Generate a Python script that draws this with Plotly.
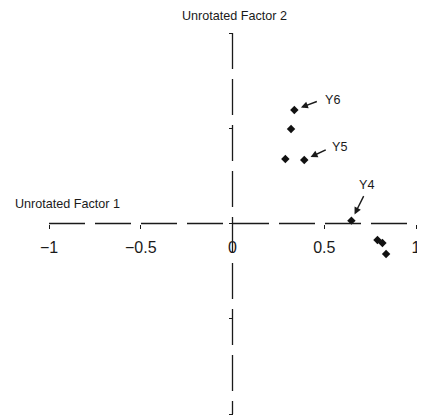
import plotly.graph_objects as go

factor1 = [0.337, 0.319, 0.288, 0.391, 0.648, 0.790, 0.817, 0.837]
factor2 = [0.596, 0.496, 0.339, 0.333, 0.015, -0.087, -0.102, -0.160]
point_labels = ["Y6", "", "", "Y5", "Y4", "", "", ""]
tick_vals = [-1, -0.5, 0, 0.5, 1]
tick_text = ["\u22121", "\u22120.5", "0", "0.5", "1"]
x_title = "Unrotated Factor 1"
y_title = "Unrotated Factor 2"

# arrow offsets (pixels) and text shifts for labelled points
arrow_style = {
    "Y6": dict(ax=24, ay=-9, xshift=38, yshift=10),
    "Y5": dict(ax=23, ay=-11, xshift=35, yshift=13),
    "Y4": dict(ax=13, ay=-26, xshift=15, yshift=36),
}

ink = "#1a1a1a"
font = "Liberation Sans, Arial, sans-serif"

fig = go.Figure()
fig.add_trace(go.Scatter(
    x=factor1, y=factor2, mode="markers",
    marker=dict(symbol="diamond", size=6.5, color="#111111"),
    hoverinfo="skip", showlegend=False, cliponaxis=False,
))

dash = "36px,10px"
fig.add_shape(type="line", x0=-1, y0=0, x1=1, y1=0, xref="x", yref="y",
              line=dict(color=ink, width=1.3, dash=dash))
fig.add_shape(type="line", x0=0, y0=1, x1=0, y1=-1, xref="x", yref="y",
              line=dict(color=ink, width=1.3, dash=dash))

annotations = []
for xv, yv, lab in zip(factor1, factor2, point_labels):
    if not lab:
        continue
    st = arrow_style[lab]
    annotations.append(dict(x=xv, y=yv, xref="x", yref="y", text="",
                            showarrow=True, ax=st["ax"], ay=st["ay"],
                            arrowhead=2, arrowsize=1, arrowwidth=1.4,
                            arrowcolor=ink, standoff=7))
    annotations.append(dict(x=xv, y=yv, xref="x", yref="y", text=lab,
                            showarrow=False, xshift=st["xshift"], yshift=st["yshift"],
                            font=dict(family=font, size=12.6, color=ink)))

annotations.append(dict(x=0.01, y=1, xref="x", yref="paper", text=y_title,
                        showarrow=False, xanchor="center", yanchor="top", yshift=25,
                        borderpad=0,
                        font=dict(family=font, size=12.6, color=ink)))
annotations.append(dict(x=-0.0973, y=0.1, xref="paper", yref="y", text=x_title,
                        showarrow=False, xanchor="left", yanchor="middle",
                        font=dict(family=font, size=12.6, color=ink)))

fig.update_layout(
    width=417, height=410,
    margin=dict(l=41, r=6, t=25, b=4),
    paper_bgcolor="white", plot_bgcolor="white",
    font=dict(family=font, size=16, color=ink),
    annotations=annotations,
    xaxis=dict(range=[-1, 1], tickvals=tick_vals, ticktext=tick_text,
               ticks="outside", ticklen=4, tickwidth=1.3, tickcolor=ink,
               showgrid=False, zeroline=False, showline=False,
               anchor="free", position=0.5, tickfont=dict(size=16),
               ticklabelstandoff=5),
    yaxis=dict(range=[-1, 1], tickvals=tick_vals, showticklabels=False,
               ticks="outside", ticklen=4, tickwidth=1.3, tickcolor=ink,
               showgrid=False, zeroline=False, showline=False,
               anchor="free", position=0.5),
)

fig.write_html("out.html")
